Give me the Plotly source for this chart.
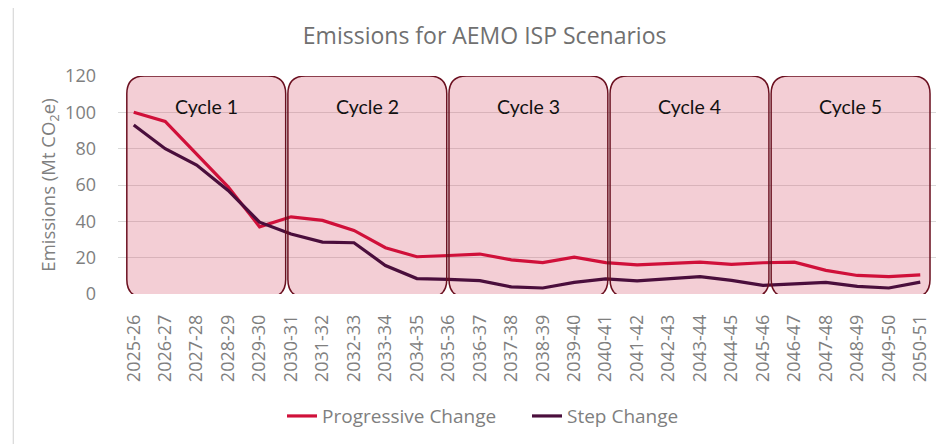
import plotly.graph_objects as go

# Financial years shown on the x axis
years = ["2025-26", "2026-27", "2027-28", "2028-29", "2029-30", "2030-31",
         "2031-32", "2032-33", "2033-34", "2034-35", "2035-36", "2036-37",
         "2037-38", "2038-39", "2039-40", "2040-41", "2041-42", "2042-43",
         "2043-44", "2044-45", "2045-46", "2046-47", "2047-48", "2048-49",
         "2049-50", "2050-51"]

# Emissions, Mt CO2e
progressive_change = [100, 95, 77, 59, 37, 42.5, 40.5, 35, 25.5, 20.5,
                      21.2, 22, 18.8, 17.3, 20.3, 17.3, 16, 16.6, 17.6, 16.3,
                      17.2, 17.5, 13, 10.2, 9.6, 10.5]
step_change = [93, 80, 71, 57, 39.5, 33, 28.6, 28.2, 15.7, 8.5,
               8, 7.4, 3.9, 3.3, 6.4, 8.3, 7.2, 8.4, 9.6, 7.5,
               4.8, 5.6, 6.4, 4.2, 3.3, 6.5]

cycle_labels = ["Cycle 1", "Cycle 2", "Cycle 3", "Cycle 4", "Cycle 5"]

x_idx = list(range(len(years)))

fig = go.Figure()

fig.add_trace(go.Scatter(
    x=x_idx, y=progressive_change, mode="lines", name="Progressive Change",
    line=dict(color="#D0103A", width=3.2),
))
fig.add_trace(go.Scatter(
    x=x_idx, y=step_change, mode="lines", name="Step Change",
    line=dict(color="#4A0E3C", width=3.2),
))


def rounded_rect(x0, x1, y0, y1, rx, ry):
    return (f"M {x0+rx},{y1} L {x1-rx},{y1} Q {x1},{y1} {x1},{y1-ry} "
            f"L {x1},{y0+ry} Q {x1},{y0} {x1-rx},{y0} "
            f"L {x0+rx},{y0} Q {x0},{y0} {x0},{y0+ry} "
            f"L {x0},{y1-ry} Q {x0},{y1} {x0+rx},{y1} Z")


# Five investment cycles, each spanning about five years
box_w = 5.05
step = 5.12
start = -0.22
rx, ry = 0.56, 9.8
for k, lab in enumerate(cycle_labels):
    x0 = start + step * k
    x1 = x0 + box_w
    path = rounded_rect(x0, x1, -1.8, 120, rx, ry)
    fig.add_shape(type="path", path=path, xref="x", yref="y",
                  fillcolor="rgba(214,92,116,0.30)", line=dict(width=0),
                  layer="between")
    fig.add_shape(type="path", path=path, xref="x", yref="y",
                  fillcolor="rgba(0,0,0,0)",
                  line=dict(color="#6B1020", width=1.5), layer="above")
    fig.add_annotation(x=(x0 + x1) / 2, y=103, text=lab, showarrow=False,
                       font=dict(family="Lato", size=19.5, color="#111111"),
                       xref="x", yref="y")

# Light outer frame of the chart area
fig.add_shape(type="rect", xref="paper", yref="paper",
              x0=-0.128, x1=1.2, y0=-1.0, y1=1.329,
              line=dict(color="#D9D9D9", width=1.2), fillcolor="rgba(0,0,0,0)",
              layer="below")

fig.update_layout(
    width=942, height=436,
    margin=dict(l=110, r=14, t=68, b=150),
    paper_bgcolor="white", plot_bgcolor="white",
    font=dict(family="Open Sans", color="#7F7F7F"),
    title=dict(text="Emissions for AEMO ISP Scenarios",
               x=0.506, xanchor="center", y=0.936, yanchor="middle",
               xref="container", yref="container",
               font=dict(family="Open Sans", size=23, color="#707070")),
    xaxis=dict(range=[-0.5, 25.5], tickmode="array", tickvals=x_idx,
               ticktext=years, tickangle=-90, showgrid=False, zeroline=False,
               showline=False, ticks="", ticklabelstandoff=16,
               automargin=False,
               tickfont=dict(size=18, color="#7F7F7F")),
    yaxis=dict(range=[0, 120], dtick=20, showgrid=True, gridcolor="#D9D9D9",
               gridwidth=1.2, zeroline=False, showline=False, ticks="",
               ticklabelstandoff=21,
               tickfont=dict(size=18, color="#7F7F7F"),
               title=dict(text="Emissions (Mt CO<sub>2</sub>e)", standoff=4,
                          font=dict(size=18.5, color="#7F7F7F"))),
    legend=dict(orientation="h", x=0.2005, xanchor="left",
                y=0.064, yref="container", yanchor="middle",
                font=dict(size=19, color="#7F7F7F"),
                entrywidth=200, entrywidthmode="pixels",
                bgcolor="rgba(0,0,0,0)"),
    showlegend=True,
)

fig.write_html("out.html")
